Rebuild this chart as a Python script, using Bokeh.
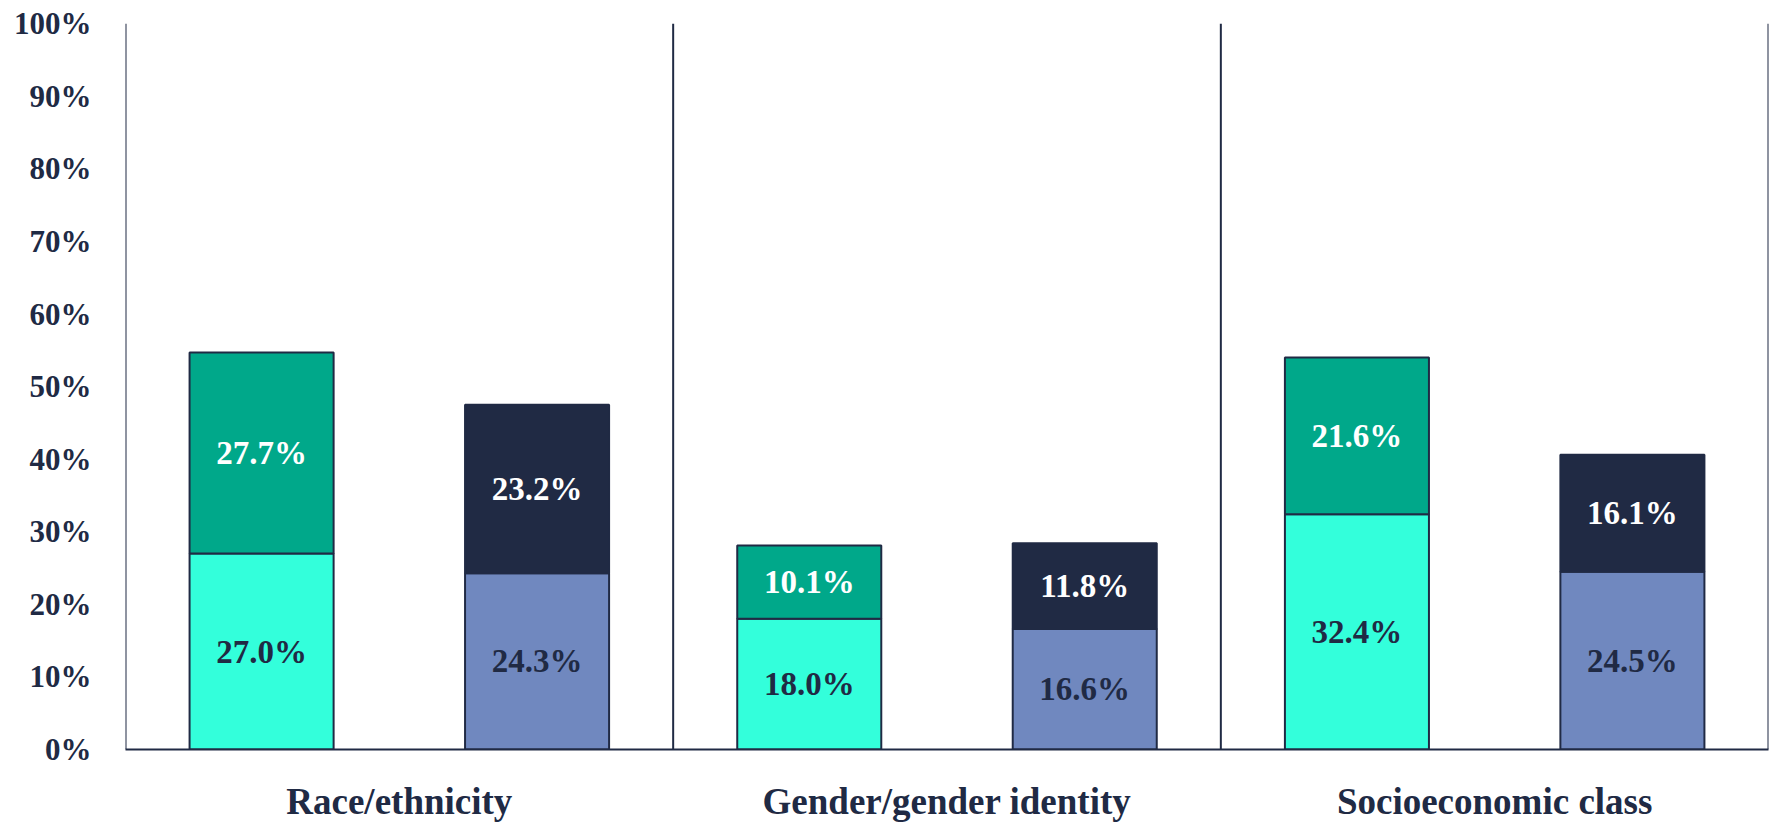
from bokeh.plotting import figure
from bokeh.models import ColumnDataSource, FixedTicker, PrintfTickFormatter, Range1d
from bokeh.core.properties import value
from bokeh.embed import file_html
from bokeh.resources import INLINE

# ---- data ----
categories = ["Race/ethnicity", "Gender/gender identity", "Socioeconomic class"]
a_bottom = [27.0, 18.0, 32.4]
a_top = [27.7, 10.1, 21.6]
b_bottom = [24.3, 16.6, 24.5]
b_top = [23.2, 11.8, 16.1]
y_ticks = [0, 10, 20, 30, 40, 50, 60, 70, 80, 90, 100]

# ---- styles ----
NAVY = "#202A44"
CYAN = "#33FFDB"
TEAL = "#00A88A"
SLATE = "#7088BF"
FONT = "Liberation Serif"
OFFSET = 0.2515
BAR_W = 0.263

p = figure(width=1771, height=824, output_backend="svg", toolbar_location=None,
           x_range=Range1d(0, 3), y_range=Range1d(0, 100.3),
           min_border_left=125, min_border_right=3, min_border_top=21, min_border_bottom=70)
p.outline_line_color = None
p.grid.visible = False
p.background_fill_color = "white"

centers = [i + 0.5 for i in range(len(categories))]
xa = [c - OFFSET for c in centers]
xb = [c + OFFSET for c in centers]

def stack(xs, bottom, top, c_bottom, c_top, lbl_bottom, lbl_top):
    tot = [b + t for b, t in zip(bottom, top)]
    src = ColumnDataSource(dict(
        x=xs, b=bottom, tot=tot,
        bmid=[b / 2 for b in bottom], tmid=[b + t / 2 for b, t in zip(bottom, top)],
        blab=["%.1f%%" % v for v in bottom], tlab=["%.1f%%" % v for v in top]))
    p.vbar(x="x", width=BAR_W, bottom=0, top="b", source=src,
           fill_color=c_bottom, line_color=NAVY, line_width=2)
    p.vbar(x="x", width=BAR_W, bottom="b", top="tot", source=src,
           fill_color=c_top, line_color=NAVY, line_width=2)
    p.text(x="x", y="bmid", text="blab", source=src, text_align="center",
           text_baseline="middle", text_color=lbl_bottom, text_font=value(FONT),
           text_font_size="33px", text_font_style="bold")
    p.text(x="x", y="tmid", text="tlab", source=src, text_align="center",
           text_baseline="middle", text_color=lbl_top, text_font=value(FONT),
           text_font_size="33px", text_font_style="bold")

stack(xa, a_bottom, a_top, CYAN, TEAL, NAVY, "white")
stack(xb, b_bottom, b_top, SLATE, NAVY, NAVY, "white")

# group separators
seps = list(range(len(categories) + 1))
p.segment(x0=seps, x1=seps, y0=[0] * len(seps), y1=[100] * len(seps),
          line_color=NAVY, line_width=2)

# y axis
p.yaxis.ticker = FixedTicker(ticks=y_ticks)
p.yaxis.formatter = PrintfTickFormatter(format="%d%%")
p.yaxis.axis_line_color = None
p.yaxis.major_tick_line_color = None
p.yaxis.minor_tick_line_color = None
p.yaxis.major_label_text_font = FONT
p.yaxis.major_label_text_font_size = "31px"
p.yaxis.major_label_text_font_style = "bold"
p.yaxis.major_label_text_color = NAVY
p.yaxis.major_label_standoff = 28

# x axis
p.xaxis.ticker = FixedTicker(ticks=centers)
p.xaxis.major_label_overrides = {c: n for c, n in zip(centers, categories)}
p.xaxis.axis_line_color = NAVY
p.xaxis.axis_line_width = 2
p.xaxis.major_tick_line_color = None
p.xaxis.minor_tick_line_color = None
p.xaxis.major_label_text_font = FONT
p.xaxis.major_label_text_font_size = "37px"
p.xaxis.major_label_text_font_style = "bold"
p.xaxis.major_label_text_color = NAVY
p.xaxis.major_label_standoff = 25

open("out.html", "w").write(file_html(p, INLINE))
